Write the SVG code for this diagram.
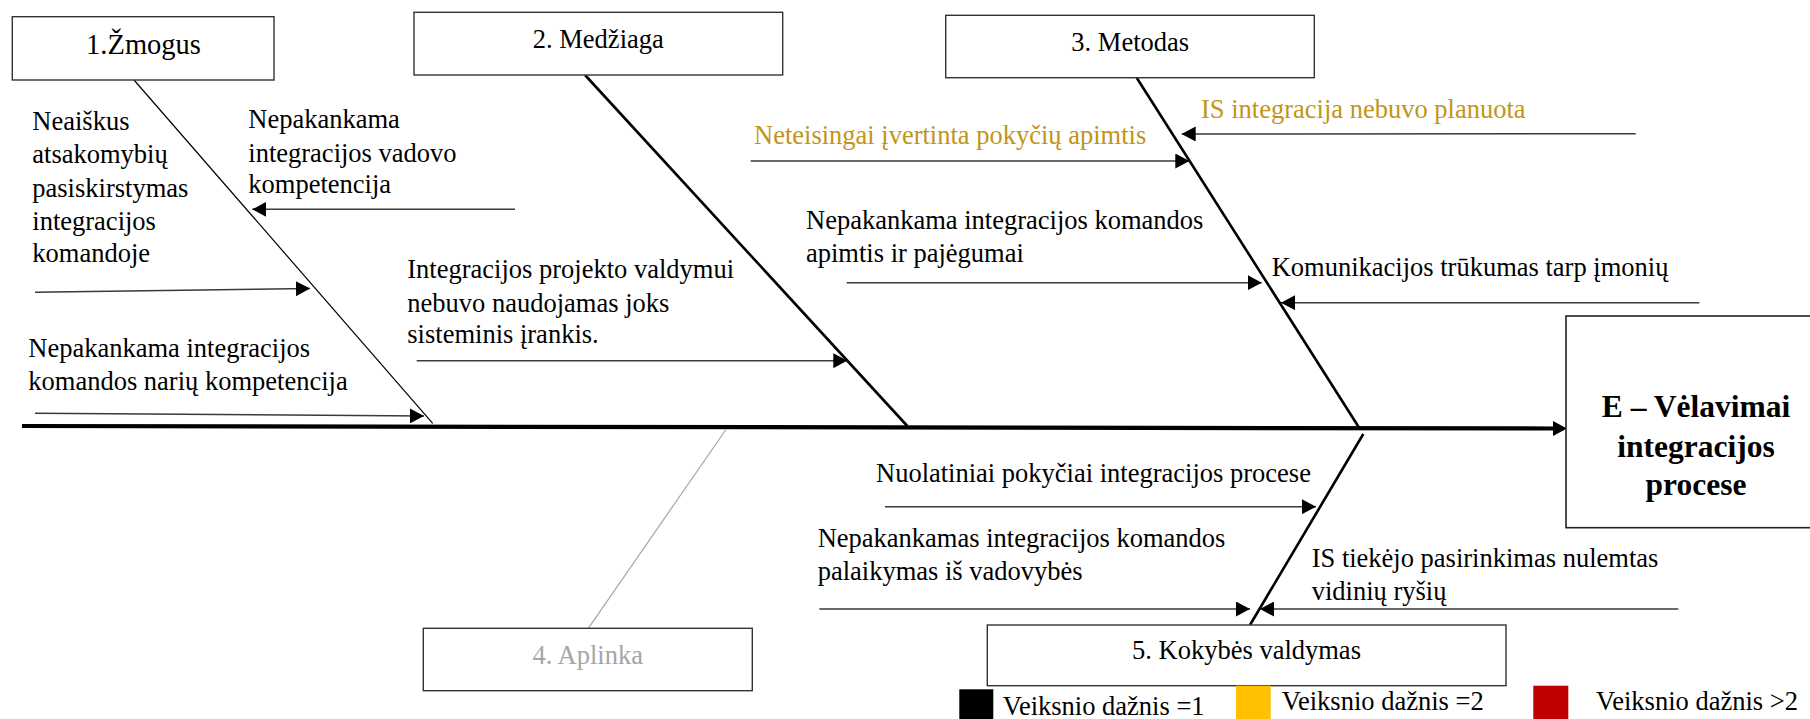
<svg xmlns="http://www.w3.org/2000/svg" width="1810" height="719" viewBox="0 0 1810 719" font-family="'Liberation Serif', Tinos, 'Times New Roman', 'DejaVu Serif', serif">
  <style>
    text { font-family: "Liberation Serif", Tinos, "Times New Roman", "DejaVu Serif", serif; font-size: 26.5px; fill: #000; }
    .box { fill: #fff; stroke: #333; stroke-width: 1.4; }
    .lbl { text-anchor: middle; }
    .gold { fill: #C29516; }
    .grey { fill: #A6A6A6; }
    .cause { stroke: #3a3a3a; stroke-width: 1.5; fill: none; marker-end: url(#ah); }
    .bone { stroke: #000; fill: none; }
    .effect { font-weight: bold; font-size: 31.5px; text-anchor: middle; }
  </style>
  <defs>
    <marker id="ah" markerUnits="userSpaceOnUse" markerWidth="14" markerHeight="15" refX="14" refY="7.5" orient="auto">
      <path d="M0,0 L14,7.5 L0,15 z" fill="#000"/>
    </marker>
  </defs>
  <rect width="1810" height="719" fill="#fff"/>

  <!-- main spine and category bones -->
  <g id="connectors">
    <line class="bone" x1="22" y1="426" x2="1553" y2="428.5" stroke-width="4.2"/>
    <polygon points="1553,421 1567,428.5 1553,436" fill="#000"/>
    <line class="bone" x1="134" y1="80" x2="432.7" y2="423.3" stroke-width="1.2"/>
    <line class="bone" x1="585" y1="75" x2="907.3" y2="426" stroke-width="2.6"/>
    <line class="bone" x1="1136.7" y1="77.7" x2="1359.3" y2="428" stroke-width="2.6"/>
    <line x1="726" y1="429.5" x2="588.3" y2="628.3" stroke="#A6A6A6" stroke-width="1.2"/>
    <line class="bone" x1="1363.3" y1="434" x2="1250" y2="625" stroke-width="2.6"/>

    <!-- cause arrows -->
    <line class="cause" x1="35" y1="292.3" x2="310" y2="288.5"/>
    <line class="cause" x1="515" y1="209.3" x2="252.3" y2="209.3"/>
    <line class="cause" x1="35" y1="413.3" x2="424" y2="416"/>
    <line class="cause" x1="416.7" y1="360.7" x2="847.3" y2="360.7"/>
    <line class="cause" x1="750.7" y1="161" x2="1189.3" y2="161"/>
    <line class="cause" x1="1635.7" y1="133.7" x2="1181.7" y2="134"/>
    <line class="cause" x1="846.7" y1="282.7" x2="1261.7" y2="282.7"/>
    <line class="cause" x1="1699.3" y1="302.7" x2="1281" y2="302.7"/>
    <line class="cause" x1="885" y1="506.7" x2="1316" y2="506.7"/>
    <line class="cause" x1="819.3" y1="609" x2="1250" y2="609"/>
    <line class="cause" x1="1678.3" y1="609" x2="1260" y2="609"/>
  </g>

  <!-- category boxes -->
  <g id="cat-zmogus">
    <rect class="box" x="12.3" y="16.7" width="261.7" height="63.3"/>
    <text class="lbl" x="143.5" y="54" style="font-size:28.5px">1.Žmogus</text>
  </g>
  <g id="cat-medziaga">
    <rect class="box" x="414" y="12.3" width="368.7" height="62.7"/>
    <text class="lbl" x="598.3" y="48.3">2. Medžiaga</text>
  </g>
  <g id="cat-metodas">
    <rect class="box" x="945.7" y="15.3" width="368.6" height="62.4"/>
    <text class="lbl" x="1130.2" y="51">3. Metodas</text>
  </g>
  <g id="cat-aplinka">
    <rect class="box" x="423.3" y="628.3" width="329" height="62.4"/>
    <text class="lbl grey" x="587.8" y="664.3">4. Aplinka</text>
  </g>
  <g id="cat-kokybe">
    <rect class="box" x="987.3" y="625" width="518.7" height="60.7"/>
    <text class="lbl" x="1246.5" y="659.3">5. Kokybės valdymas</text>
  </g>

  <!-- effect box -->
  <g id="effect">
    <rect x="1566" y="316" width="250" height="211.7" fill="#fff" stroke="#222" stroke-width="1.6"/>
    <text class="effect" x="1696" y="416.7">E – Vėlavimai</text>
    <text class="effect" x="1696" y="456.7">integracijos</text>
    <text class="effect" x="1696" y="495">procese</text>
  </g>

  <!-- cause labels -->
  <g id="cause-atsakomybe">
    <text x="32.3" y="130">Neaiškus</text>
    <text x="32.3" y="163.3">atsakomybių</text>
    <text x="32.3" y="196.7">pasiskirstymas</text>
    <text x="32.3" y="230">integracijos</text>
    <text x="32.3" y="262">komandoje</text>
  </g>
  <g id="cause-vadovas">
    <text x="248.3" y="128.3">Nepakankama</text>
    <text x="248.3" y="161.7">integracijos vadovo</text>
    <text x="248.3" y="193.3">kompetencija</text>
  </g>
  <g id="cause-nariai">
    <text x="28.3" y="357">Nepakankama integracijos</text>
    <text x="28.3" y="390">komandos narių kompetencija</text>
  </g>
  <g id="cause-irankis">
    <text x="407.3" y="278.3">Integracijos projekto valdymui</text>
    <text x="407.3" y="311.7">nebuvo naudojamas joks</text>
    <text x="407.3" y="343.3">sisteminis įrankis.</text>
  </g>
  <g id="cause-apimtis">
    <text class="gold" x="754" y="144">Neteisingai įvertinta pokyčių apimtis</text>
  </g>
  <g id="cause-planavimas">
    <text class="gold" x="1201" y="118.3">IS integracija nebuvo planuota</text>
  </g>
  <g id="cause-pajegumai">
    <text x="806" y="229.3">Nepakankama integracijos komandos</text>
    <text x="806" y="261.7">apimtis ir pajėgumai</text>
  </g>
  <g id="cause-komunikacija">
    <text x="1271.7" y="276">Komunikacijos trūkumas tarp įmonių</text>
  </g>
  <g id="cause-pokyciai">
    <text x="876" y="481.7">Nuolatiniai pokyčiai integracijos procese</text>
  </g>
  <g id="cause-palaikymas">
    <text x="817.7" y="546.7">Nepakankamas integracijos komandos</text>
    <text x="817.7" y="580">palaikymas iš vadovybės</text>
  </g>
  <g id="cause-tiekejas">
    <text x="1311.7" y="566.7">IS tiekėjo pasirinkimas nulemtas</text>
    <text x="1311.7" y="600">vidinių ryšių</text>
  </g>

  <!-- frequency legend -->
  <g id="legend">
    <rect x="959.3" y="689.3" width="34" height="34" fill="#000"/>
    <text x="1002.7" y="715">Veiksnio dažnis =1</text>
    <rect x="1236" y="685.7" width="34.7" height="35" fill="#FFC000"/>
    <text x="1281.8" y="710">Veiksnio dažnis =2</text>
    <rect x="1533.3" y="685.7" width="35" height="35" fill="#C00000"/>
    <text x="1596" y="710">Veiksnio dažnis &gt;2</text>
  </g>
</svg>
